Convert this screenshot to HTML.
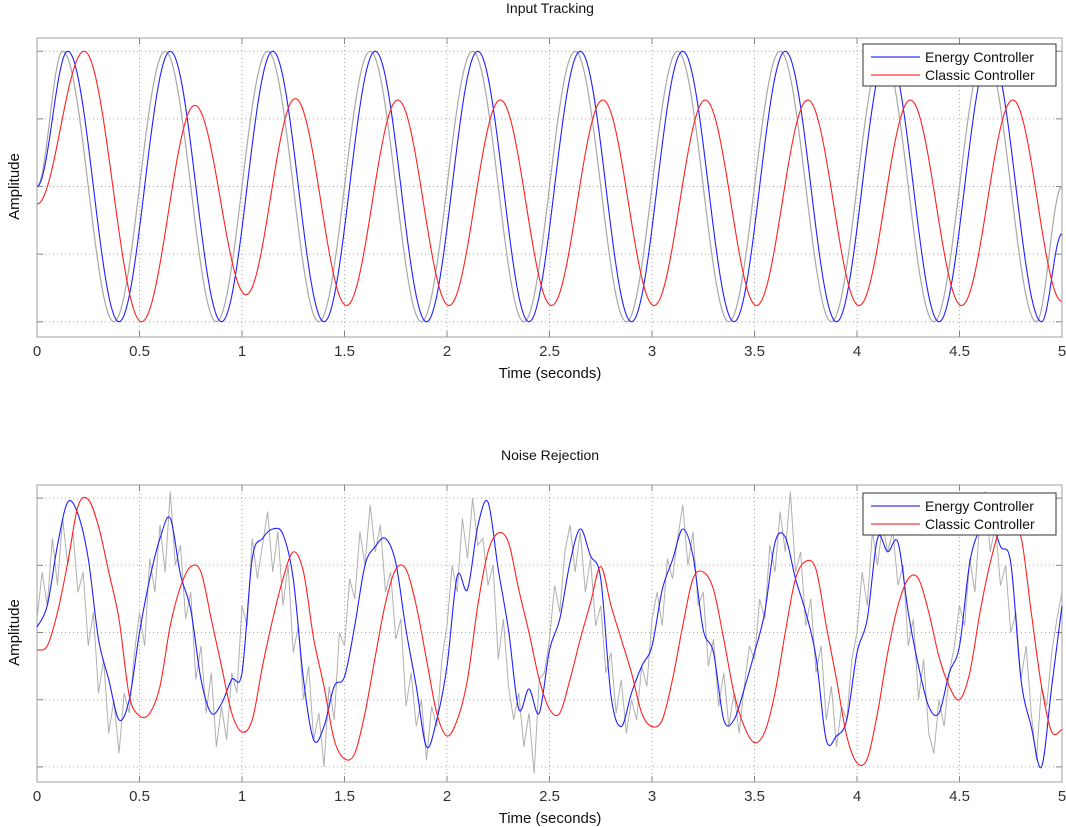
<!DOCTYPE html>
<html><head><meta charset="utf-8"><style>
html,body{margin:0;padding:0;background:#fff;}
svg{display:block;font-family:"Liberation Sans",Arial,sans-serif;}
</style></head><body>
<svg id="chart" width="1066" height="827" viewBox="0 0 1066 827" xmlns="http://www.w3.org/2000/svg">
<g id="top"></g>
<g id="bot"></g>
</svg>
<script>
// ---- data ----
const xTicks = [0,0.5,1,1.5,2,2.5,3,3.5,4,4.5,5];
const xTickLabels = ["0","0.5","1","1.5","2","2.5","3","3.5","4","4.5","5"];
const yGrid = [-1,-0.5,0,0.5,1];
// top: extrema (time, value)
const topInputT = [0,0.125,0.375,0.625,0.875,1.125,1.375,1.625,1.875,2.125,2.375,2.625,2.875,3.125,3.375,3.625,3.875,4.125,4.375,4.625,4.875,5];
const topInputV = [0,1,-1,1,-1,1,-1,1,-1,1,-1,1,-1,1,-1,1,-1,1,-1,1,-1,0];
const topEnergyT = [0,0.15,0.4,0.65,0.9,1.15,1.4,1.65,1.9,2.15,2.4,2.65,2.9,3.15,3.4,3.65,3.9,4.15,4.4,4.65,4.9,5];
const topEnergyV = [0,1,-1,1,-1,1,-1,1,-1,1,-1,1,-1,1,-1,1,-1,1,-1,1,-1,-0.35];
const topClassicT = [0,0.23,0.51,0.77,1.02,1.26,1.51,1.76,2.01,2.26,2.51,2.76,3.01,3.26,3.51,3.76,4.01,4.26,4.51,4.76,5];
const topClassicV = [-0.13,1,-1,0.6,-0.8,0.65,-0.88,0.64,-0.88,0.64,-0.88,0.64,-0.88,0.64,-0.88,0.64,-0.88,0.64,-0.88,0.64,-0.85];
// bottom: sampled series
const botEnergy = [0.04,0.2,0.65,0.97,0.88,0.55,-0.05,-0.35,-0.65,-0.5,0,0.4,0.7,0.85,0.43,0.17,-0.35,-0.6,-0.53,-0.35,-0.3,0.55,0.7,0.77,0.73,0.4,-0.35,-0.8,-0.7,-0.4,-0.33,0.05,0.5,0.64,0.7,0.52,0.02,-0.4,-0.85,-0.65,-0.25,0.42,0.32,0.79,0.97,0.47,0.02,-0.57,-0.42,-0.6,-0.13,0.1,0.52,0.77,0.57,0.4,-0.47,-0.7,-0.45,-0.25,-0.1,0.32,0.54,0.77,0.57,0.02,-0.15,-0.65,-0.65,-0.42,-0.15,0.15,0.67,0.71,0.4,0.15,-0.18,-0.8,-0.77,-0.65,-0.15,0.1,0.7,0.6,0.67,0.15,-0.25,-0.55,-0.6,-0.3,-0.1,0.52,0.77,0.85,0.64,0.52,-0.35,-0.7,-1.0,-0.4,0.2];
const botClassic = [-0.13,-0.1,0.15,0.52,0.94,0.99,0.79,0.45,0.1,-0.47,-0.62,-0.6,-0.4,0.05,0.34,0.49,0.45,0.1,-0.25,-0.6,-0.74,-0.65,-0.25,0.1,0.4,0.6,0.45,-0.05,-0.4,-0.8,-0.94,-0.9,-0.6,-0.18,0.22,0.47,0.47,0.2,-0.2,-0.6,-0.77,-0.65,-0.35,0.2,0.6,0.74,0.67,0.32,0,-0.35,-0.57,-0.6,-0.35,-0.05,0.22,0.49,0.2,-0.05,-0.3,-0.6,-0.7,-0.65,-0.35,0.05,0.4,0.45,0.32,-0.05,-0.45,-0.7,-0.82,-0.74,-0.45,0,0.4,0.53,0.47,0.05,-0.35,-0.77,-0.97,-0.94,-0.6,-0.15,0.2,0.4,0.4,0.15,-0.18,-0.4,-0.5,-0.3,0.15,0.52,0.77,0.75,0.71,0.15,-0.4,-0.74,-0.72];
const botInput = [
0.1,0.45,0.2,0.7,0.35,0.85,0.5,0.75,0.3,0.45,-0.1,0.15,-0.45,-0.2,-0.75,-0.5,-0.9,-0.45,-0.6,-0.15,
0.15,-0.1,0.55,0.3,0.8,0.45,1.05,0.5,0.65,0.1,0.3,-0.35,-0.1,-0.6,-0.3,-0.85,-0.55,-0.8,-0.3,-0.45,
0.2,0.05,0.7,0.4,0.65,0.9,0.45,0.75,0.2,0.5,-0.15,0.05,-0.5,-0.25,-0.8,-0.6,-1.0,-0.4,-0.65,0.0,
-0.1,0.4,0.25,0.75,0.5,0.95,0.6,0.8,0.3,0.45,-0.05,0.1,-0.55,-0.3,-0.7,-0.5,-0.95,-0.55,-0.7,-0.2,
0.05,0.5,0.3,0.85,0.55,1.0,0.65,0.7,0.35,0.5,-0.2,0.1,-0.4,-0.65,-0.45,-0.85,-0.6,-1.05,-0.35,-0.3,
-0.05,0.35,0.15,0.6,0.8,0.45,0.75,0.3,0.55,0.05,0.2,-0.3,-0.15,-0.6,-0.35,-0.75,-0.5,-0.65,-0.25,-0.4,
0.1,0.3,0.05,0.55,0.4,0.7,0.95,0.5,0.75,0.2,0.3,-0.25,-0.05,-0.55,-0.3,-0.7,-0.45,-0.75,-0.4,-0.1,
-0.2,0.25,0.1,0.65,0.45,0.9,0.6,1.05,0.45,0.6,0.05,0.25,-0.3,-0.1,-0.65,-0.4,-0.85,-0.55,-0.65,-0.2,
0.0,0.45,0.2,0.75,0.5,0.8,0.6,0.75,0.35,0.5,-0.1,0.1,-0.5,-0.2,-0.75,-0.9,-0.5,-0.7,-0.3,-0.1,
0.2,0.05,0.55,0.3,0.85,1.05,0.6,0.8,0.35,0.5,0.0,0.15,-0.35,-0.1,-0.6,-0.95,-0.4,-0.55,-0.15,0.1,
0.3];
const botEnergyDt = 0.05, botClassicDt = 0.05, botInputDt = 0.025;

// ---- drawing ----
const NS = "http://www.w3.org/2000/svg";
function mk(parent, tag, attrs, text){
  const e = document.createElementNS(NS, tag);
  for (const k in attrs) e.setAttribute(k, attrs[k]);
  if (text !== undefined) e.textContent = text;
  parent.appendChild(e);
  return e;
}
const X0 = 37, X1 = 1062;
function xScale(t){ return X0 + (t/5)*(X1-X0); }

function panel(g, top, bottom, title){
  const mid = (top+bottom)/2 - 1;
  const half = ((bottom-top)/2)/1.105;
  const yScale = v => mid - v*half;
  const frame = mk(g, "rect", {x:X0, y:top, width:X1-X0, height:bottom-top, fill:"#fff", stroke:"#a0a0a0", "stroke-width":1});
  
  
  xTicks.forEach((t,i)=>{
    const x = xScale(t);
    if (i>0 && i<xTicks.length-1){
      const gl = mk(g, "line", {x1:x, x2:x, y1:top, y2:bottom, stroke:"#aaa", "stroke-width":1, "stroke-dasharray":"1,3"});
      
      
      mk(g, "line", {x1:x, x2:x, y1:top, y2:top+6, stroke:"#888"});
      mk(g, "line", {x1:x, x2:x, y1:bottom, y2:bottom-6, stroke:"#888"});
    }
    const tl = mk(g, "text", {x:x, y:bottom+19, "text-anchor":"middle", "font-size":15, fill:"#333"}, xTickLabels[i]);
    
    
  });
  yGrid.forEach(v=>{
    const y = yScale(v);
    const gl = mk(g, "line", {x1:X0, x2:X1, y1:y, y2:y, stroke:"#aaa", "stroke-width":1, "stroke-dasharray":"1,3"});
    
    
    mk(g, "line", {x1:X0, x2:X0+6, y1:y, y2:y, stroke:"#888"});
    mk(g, "line", {x1:X1, x2:X1-6, y1:y, y2:y, stroke:"#888"});
  });
  const tt = mk(g, "text", {x:550, y:top-25, "text-anchor":"middle", "font-size":14, fill:"#111"}, title);
  
  
  const xl = mk(g, "text", {x:550, y:bottom+41, "text-anchor":"middle", "font-size":15, fill:"#111"}, "Time (seconds)");
  
  
  const yl = mk(g, "text", {x:0, y:0, "text-anchor":"middle", "font-size":15, fill:"#111", transform:`translate(19,${mid}) rotate(-90)`}, "Amplitude");
  
  
  return yScale;
}

function extremaPath(T, V, yScale){
  let d = "";
  for (let i=0;i<T.length-1;i++){
    const n = 30;
    for (let k=(i===0?0:1);k<=n;k++){
      const f = k/n;
      const w = (1-Math.cos(Math.PI*f))/2;
      const t = T[i] + (T[i+1]-T[i])*f;
      const v = V[i] + (V[i+1]-V[i])*w;
      d += (d?"L":"M") + xScale(t).toFixed(2) + "," + yScale(v).toFixed(2);
    }
  }
  return d;
}
function sampledPath(vals, dt, yScale, smooth){
  const pts = vals.map((v,i)=>[xScale(i*dt), yScale(v)]);
  if (!smooth) return pts.map((p,i)=>(i?"L":"M")+p[0].toFixed(2)+","+p[1].toFixed(2)).join("");
  let d = "M"+pts[0][0].toFixed(2)+","+pts[0][1].toFixed(2);
  for (let i=0;i<pts.length-1;i++){
    const p0 = pts[Math.max(0,i-1)], p1 = pts[i], p2 = pts[i+1], p3 = pts[Math.min(pts.length-1,i+2)];
    const c1 = [p1[0]+(p2[0]-p0[0])/6, p1[1]+(p2[1]-p0[1])/6];
    const c2 = [p2[0]-(p3[0]-p1[0])/6, p2[1]-(p3[1]-p1[1])/6];
    d += "C"+c1[0].toFixed(2)+","+c1[1].toFixed(2)+" "+c2[0].toFixed(2)+","+c2[1].toFixed(2)+" "+p2[0].toFixed(2)+","+p2[1].toFixed(2);
  }
  return d;
}
function legend(g, x, y){
  const box = mk(g, "rect", {x:x, y:y, width:193, height:42, fill:"#fff", stroke:"#333", "stroke-width":1});
  
  
  const items = [["Energy Controller","#0000ff"],["Classic Controller","#ff0000"]];
  items.forEach((it,i)=>{
    const yy = y + 13 + i*18;
    mk(g, "line", {x1:x+8, x2:x+57, y1:yy, y2:yy, stroke:it[1], "stroke-width":1});
    const t = mk(g, "text", {x:x+62, y:yy+5, "font-size":14, fill:"#111"}, it[0]);
    
    
  });
}

const gTop = document.getElementById("top");
const ysT = panel(gTop, 38, 337, "Input Tracking");
let p;
p = mk(gTop, "path", {d:extremaPath(topInputT, topInputV, ysT), fill:"none", stroke:"#a8a8a8", "stroke-width":1.2});


p = mk(gTop, "path", {d:extremaPath(topEnergyT, topEnergyV, ysT), fill:"none", stroke:"#2020ff", "stroke-width":1.1});


p = mk(gTop, "path", {d:extremaPath(topClassicT, topClassicV, ysT), fill:"none", stroke:"#ff2020", "stroke-width":1.1});


legend(gTop, 863, 44);

const gBot = document.getElementById("bot");
const ysB = panel(gBot, 485, 782, "Noise Rejection");
p = mk(gBot, "path", {d:sampledPath(botInput, botInputDt, ysB, false), fill:"none", stroke:"#b0b0b0", "stroke-width":1});


p = mk(gBot, "path", {d:sampledPath(botEnergy, botEnergyDt, ysB, true), fill:"none", stroke:"#2020ff", "stroke-width":1.1});


p = mk(gBot, "path", {d:sampledPath(botClassic, botClassicDt, ysB, true), fill:"none", stroke:"#ff2020", "stroke-width":1.1});


legend(gBot, 863, 493);
</script>
</body></html>
